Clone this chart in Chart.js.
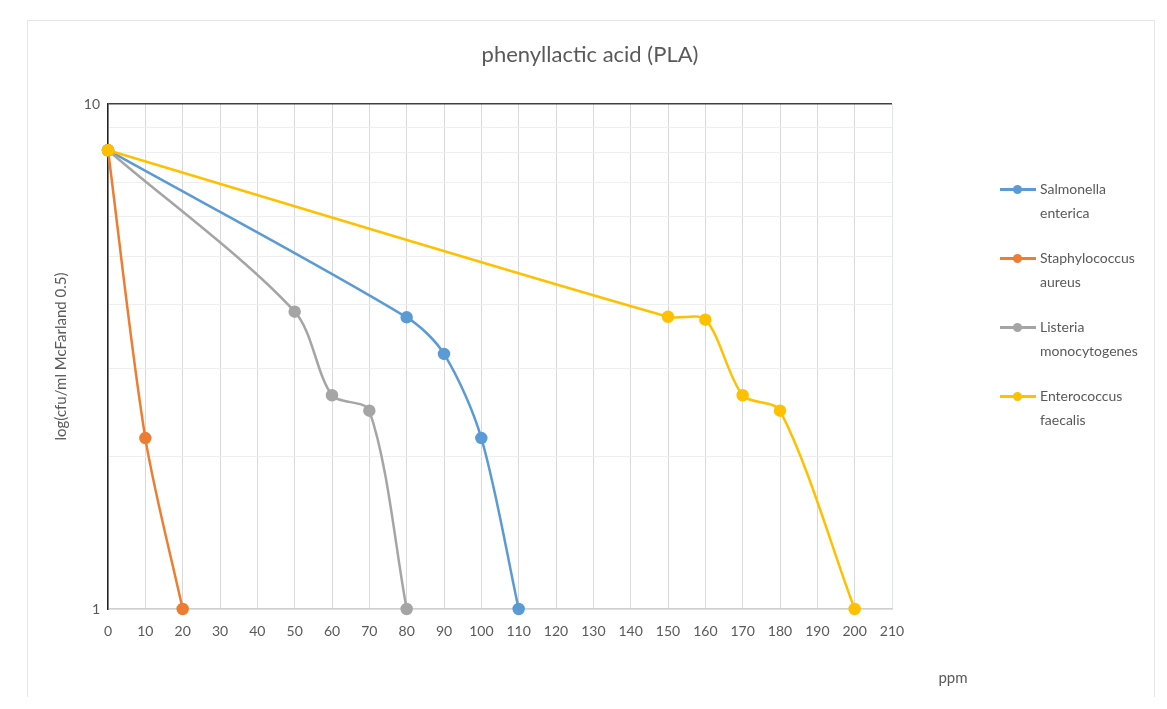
<!DOCTYPE html>
<html>
<head>
<meta charset="utf-8">
<script src="https://cdn.jsdelivr.net/npm/chart.js@4.4.1/dist/chart.umd.min.js"></script>
<style>
  body { margin: 0; background: #fff; font-family: Lato, "Open Sans", sans-serif; }
  #wrap { position: relative; width: 1167px; height: 709px; }
  #frame { position: absolute; left: 27px; top: 20px; width: 1126px; height: 676px;
           border: 1px solid #e6e6e6; border-bottom: none; }
  #legend { position: absolute; left: 998px; top: 177px; color: #595959; font-size: 14px; }
  .item { position: relative; height: 69px; }
  .item .txt { position: absolute; left: 42px; top: 0; line-height: 24px; white-space: nowrap; }
  .item .ln { position: absolute; left: 2px; top: 11px; width: 36px; height: 3px; }
  .item .dot { position: absolute; left: 15px; top: 8px; width: 9px; height: 9px; border-radius: 50%; }
  canvas { position: absolute; left: 0; top: 0; }
</style>
</head>
<body>
<div id="wrap">
  <div id="frame"></div>
  <canvas id="c" width="1167" height="709"></canvas>
  <div id="legend"></div>
</div>
<script>
// 데이터
const seriesNames = [['Salmonella', 'enterica'], ['Staphylococcus', 'aureus'], ['Listeria', 'monocytogenes'], ['Enterococcus', 'faecalis']];
const seriesColors = ['#5B9BD5', '#ED7D31', '#A5A5A5', '#FFC000'];

const salmonellaX = [0, 80, 90, 100, 110];
const salmonellaY = [8.1, 3.78, 3.2, 2.18, 1];

const staphX = [0, 10, 20];
const staphY = [8.1, 2.18, 1];

const listeriaX = [0, 50, 60, 70, 80];
const listeriaY = [8.1, 3.88, 2.65, 2.47, 1];

const enteroX = [0, 150, 160, 170, 180, 200];
const enteroY = [8.1, 3.79, 3.74, 2.65, 2.47, 1];

const xTicks = [0, 10, 20, 30, 40, 50, 60, 70, 80, 90, 100, 110, 120, 130, 140, 150, 160, 170, 180, 190, 200, 210];
const yGrid = [1, 2, 3, 4, 5, 6, 7, 8, 9, 10];
const yLabels = [1, 10];

const allX = [salmonellaX, staphX, listeriaX, enteroX];
const allY = [salmonellaY, staphY, listeriaY, enteroY];

const textColor = '#595959';

// 범례 (HTML)
const legendEl = document.getElementById('legend');
seriesNames.forEach((name, i) => {
    const item = document.createElement('div');
    item.className = 'item';
    item.innerHTML = '<div class="ln" style="background:' + seriesColors[i] + '"></div>' +
        '<div class="dot" style="background:' + seriesColors[i] + '"></div>' +
        '<div class="txt">' + name[0] + '<br>' + name[1] + '</div>';
    legendEl.appendChild(item);
});

// 제목과 x축 제목
const extraText = {
    id: 'extraText',
    afterDraw(chart) {
        const ctx = chart.ctx;
        ctx.save();
        ctx.fillStyle = textColor;
        ctx.textAlign = 'center';
        ctx.textBaseline = 'middle';
        ctx.font = '22px Lato';
        ctx.fillText('phenyllactic acid (PLA)', 590, 55);
        ctx.font = '15px Lato';
        ctx.fillText('ppm', 953, 678);
        ctx.restore();
    }
};

new Chart(document.getElementById('c'), {
    type: 'line',
    data: {
        datasets: allX.map((xs, i) => ({
            label: seriesNames[i].join(' '),
            data: xs.map((x, j) => ({ x: x, y: allY[i][j] })),
            borderColor: seriesColors[i],
            backgroundColor: seriesColors[i],
            borderWidth: 2.5,
            pointRadius: 5,
            pointHoverRadius: 5,
            tension: 0.3,
            order: 3 - i,
            clip: false,
            fill: false
        }))
    },
    options: {
        responsive: false,
        animation: false,
        layout: { padding: { left: 0, right: 275, top: 104, bottom: 0 } },
        plugins: {
            legend: { display: false },
            tooltip: { enabled: false },
            title: { display: false }
        },
        scales: {
            x: {
                type: 'linear',
                min: 0,
                max: 210,
                afterBuildTicks(scale) {
                    scale.ticks = xTicks.map(v => ({ value: v }));
                },
                afterFit(scale) { scale.height = 100; },
                ticks: {
                    color: textColor,
                    font: { family: 'Lato', size: 14 },
                    padding: 14,
                    maxRotation: 0,
                    autoSkip: false
                },
                grid: {
                    drawTicks: false,
                    color: ctx => ctx.tick && ctx.tick.value === 210 ? '#dde8f4' : '#d9d9d9',
                    lineWidth: 1
                },
                border: { color: '#d0d0d0', width: 1.5 }
            },
            y: {
                type: 'logarithmic',
                min: 1,
                max: 10,
                afterBuildTicks(scale) {
                    scale.ticks = yGrid.map(v => ({ value: v }));
                },
                afterFit(scale) { scale.width = 108; },
                ticks: {
                    color: textColor,
                    font: { family: 'Lato', size: 14 },
                    padding: 8,
                    autoSkip: false,
                    callback: v => yLabels.includes(v) ? String(v) : ''
                },
                grid: {
                    drawTicks: false,
                    color: ctx => ctx.tick && ctx.tick.value === 10 ? '#404040' : '#eeeeee',
                    lineWidth: ctx => ctx.tick && ctx.tick.value === 10 ? 1.5 : 1
                },
                border: { color: '#222222', width: 1.5 },
                title: {
                    display: true,
                    text: 'log(cfu/ml McFarland 0.5)',
                    color: textColor,
                    font: { family: 'Lato', size: 15 },
                    padding: { top: 52, bottom: 0 }
                }
            }
        }
    },
    plugins: [extraText]
});
</script>
</body>
</html>
